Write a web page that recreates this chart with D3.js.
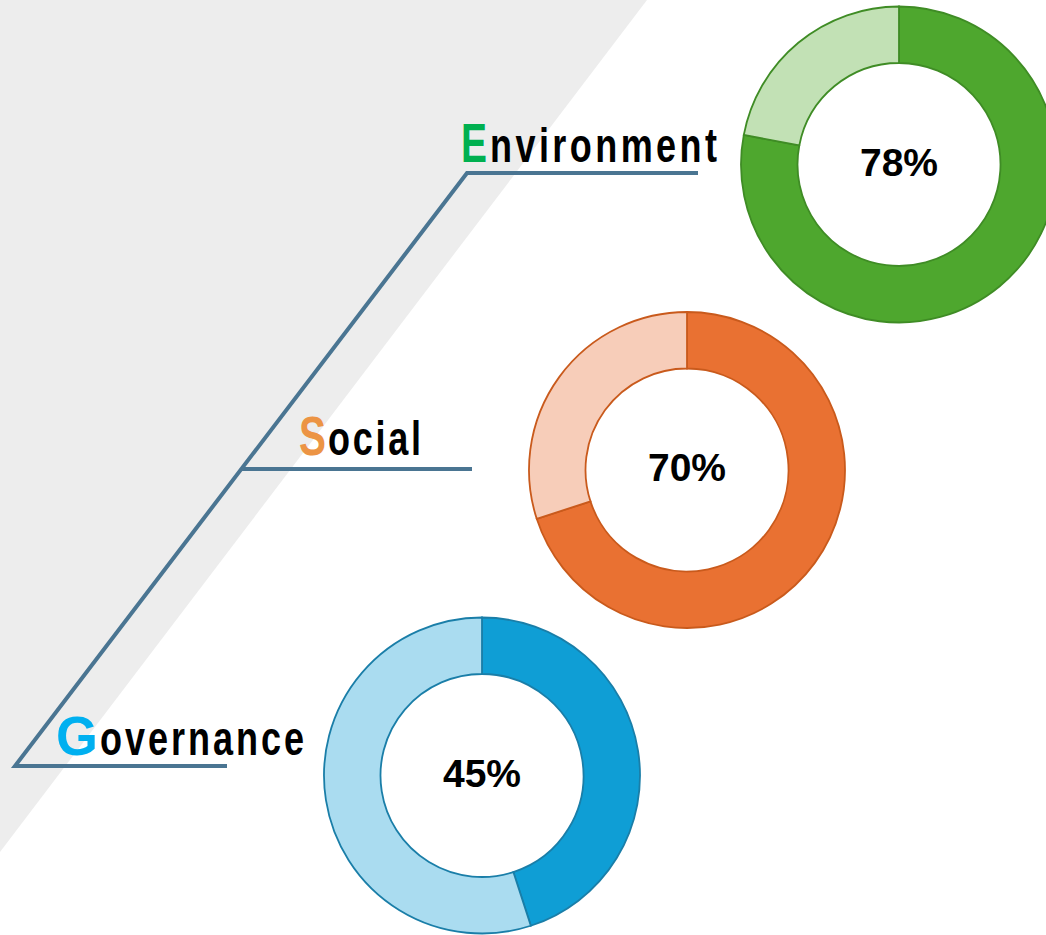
<!DOCTYPE html>
<html>
<head>
<meta charset="utf-8">
<script src="https://cdn.jsdelivr.net/npm/d3@7"></script>
<style>
html,body{margin:0;padding:0;background:#fff;}
svg{display:block;}
</style>
</head>
<body>
<svg id="chart" width="1046" height="935"></svg>
<script>
// ---- data ----
const categories = ["Environment", "Social", "Governance"];
const values = [78, 70, 45];
const initials = ["E", "S", "G"];
const rests = ["nvironment", "ocial", "overnance"];
const darkColors = ["#4ea72e", "#e97132", "#0f9ed5"];
const lightColors = ["#c2e1b5", "#f7cdb9", "#aadcf0"];
const strokeColors = ["#3f8c25", "#c95a1c", "#1a7ea8"];
const initialColors = ["#00b050", "#ec9444", "#00b0f0"];

// ---- layout ----
const svg = d3.select("#chart");
const cx = d3.scaleOrdinal().domain(categories).range([899, 687, 482]);
const cy = d3.scalePoint().domain(categories).range([164.5, 775.5]);
const lineY = d3.scaleOrdinal().domain(categories).range([173, 469, 766]);
const lineEnd = d3.scaleOrdinal().domain(categories).range([698, 472, 227]);
// label boxes: [initial x0, initial x1, rest x0, rest x1, baseline]
const labelBox = d3.scaleOrdinal().domain(categories).range([
  [461, 487, 490, 717, 162],
  [299, 326, 328, 421, 455],
  [56, 98, 100, 304, 755]
]);

// background triangle
svg.append("path")
  .attr("d", "M0,0 L647,0 L0,852 Z")
  .attr("fill", "#ededed");

// connector lines
const pTop = [467, lineY("Environment")], pBot = [15, lineY("Governance")];
const diagX = y => pTop[0] + (pBot[0] - pTop[0]) * (y - pTop[1]) / (pBot[1] - pTop[1]);
const lineColor = "#4a7592";
svg.append("path")
  .attr("d", d3.line()([[lineEnd("Environment"), pTop[1]], pTop, pBot, [lineEnd("Governance"), pBot[1]]]))
  .attr("fill", "none")
  .attr("stroke", lineColor)
  .attr("stroke-width", 4);
svg.append("line")
  .attr("x1", diagX(lineY("Social"))).attr("y1", lineY("Social"))
  .attr("x2", lineEnd("Social")).attr("y2", lineY("Social"))
  .attr("stroke", lineColor)
  .attr("stroke-width", 4);

// labels
const labelFont = "'Liberation Sans', Arial, sans-serif";
const sx = 0.75;
categories.forEach((c, i) => {
  const b = labelBox(c);
  const t = svg.append("text")
    .attr("transform", `translate(${b[0]},${b[4]}) scale(${sx},1)`)
    .attr("font-family", labelFont)
    .attr("font-weight", "bold");
  t.append("tspan")
    .attr("x", 0)
    .attr("font-size", 56)
    .attr("fill", initialColors[i])
    .attr("textLength", (b[1] - b[0]) / sx)
    .attr("lengthAdjust", "spacingAndGlyphs")
    .text(initials[i]);
  const r = t.append("tspan")
    .attr("x", (b[2] - b[0]) / sx)
    .attr("font-size", 48)
    .attr("fill", "#000")
    .text(rests[i]);
  const natural = r.node().getComputedTextLength();
  const target = (b[3] - b[2]) / sx;
  const n = rests[i].length;
  r.attr("letter-spacing", Math.max(0, (target - natural) / (n - 1)));
});

// donuts
const pie = d3.pie().sort(null).value(d => d);
const arc = d3.arc().innerRadius(101.5).outerRadius(158);
categories.forEach((c, i) => {
  const g = svg.append("g").attr("transform", `translate(${cx(c)},${cy(c)})`);
  g.selectAll("path")
    .data(pie([values[i], 100 - values[i]]))
    .join("path")
    .attr("d", arc)
    .attr("fill", (d, j) => j === 0 ? darkColors[i] : lightColors[i])
    .attr("stroke", strokeColors[i])
    .attr("stroke-width", 1.8);
  g.append("text")
    .attr("text-anchor", "middle")
    .attr("y", 11)
    .attr("font-family", "'Liberation Sans', Arial, sans-serif")
    .attr("font-weight", "bold")
    .attr("font-size", 39)
    .attr("fill", "#000")
    .text(values[i] + "%");
});
</script>
</body>
</html>
